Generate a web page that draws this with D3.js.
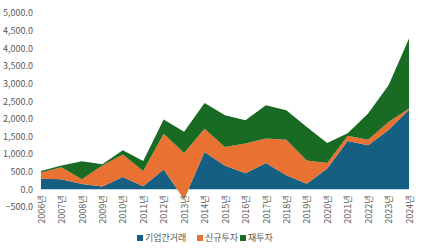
<!DOCTYPE html>
<html>
<head>
<meta charset="utf-8">
<script src="https://cdn.jsdelivr.net/npm/d3@7"></script>
<style>
body { margin: 0; background: #fff; }
text { font-family: "Noto Sans CJK KR", "Noto Sans", sans-serif; fill: #595959; }
</style>
</head>
<body>
<svg id="chart"></svg>
<script>
var width = 424, height = 250

var years = ["2006년", "2007년", "2008년", "2009년", "2010년", "2011년", "2012년", "2013년", "2014년", "2015년",
    "2016년", "2017년", "2018년", "2019년", "2020년", "2021년", "2022년", "2023년", "2024년"]
var seriesNames = ["기업간거래", "신규투자", "재투자"]
var interCompany = [300, 290, 150, 80, 350, 90, 560, -270, 1060, 670, 460, 750, 400, 160, 590, 1370, 1250, 1680, 2260]
var newInvest = [180, 340, 140, 600, 640, 430, 1020, 1300, 660, 530, 840, 690, 1010, 660, 160, 150, 160, 230, 30]
var reInvest = [40, 50, 505, 30, 120, 285, 400, 600, 730, 900, 660, 945, 830, 950, 565, 70, 740, 1040, 1990]
var yTicks = [-500, 0, 500, 1000, 1500, 2000, 2500, 3000, 3500, 4000, 4500, 5000]
var colors = ["#156082", "#E97132", "#196B24"]

var rows = years.map(function(y, i) {
    return { year: y, "기업간거래": interCompany[i], "신규투자": newInvest[i], "재투자": reInvest[i] }
})

var svg = d3.select("#chart")
    .attr("width", width)
    .attr("height", height)

var x = d3.scalePoint()
    .domain(years)
    .range([41, 409])

var y = d3.scaleLinear()
    .domain([-500, 5000])
    .range([207, 13])

// plain cumulative stacking, like the spreadsheet (negatives not split off)
var stack = d3.stack()
    .keys(seriesNames)
    .offset(d3.stackOffsetNone)
var layers = stack(rows)

var area = d3.area()
    .x(function(d) { return x(d.data.year) })
    .y0(function(d) { return y(d[0]) })
    .y1(function(d) { return y(d[1]) })

svg.append("g")
    .selectAll("path")
    .data(layers)
    .enter()
    .append("path")
        .attr("d", area)
        .attr("fill", function(d, i) { return colors[i] })

// y axis labels
var yAxis = svg.append("g")
    .attr("transform", "translate(33,0)")
    .call(d3.axisLeft(y).tickValues(yTicks).tickSize(0).tickFormat(d3.format(",.1f")))
yAxis.select(".domain").remove()
yAxis.selectAll("text")
    .attr("x", 0)
    .style("font-size", "9px")
    .style("fill", "#595959")

// x axis labels, rotated
var xAxis = svg.append("g")
    .attr("transform", "translate(0," + y(0) + ")")
    .call(d3.axisBottom(x).tickSize(0))
xAxis.select(".domain").remove()
xAxis.selectAll("text")
    .attr("transform", "rotate(-90)")
    .attr("x", -6)
    .attr("y", 0)
    .attr("dy", "0.35em")
    .style("text-anchor", "end")
    .style("font-size", "9px")
    .style("fill", "#595959")

// legend
var legendX = [137, 197, 240]
var legend = svg.append("g")
    .selectAll("g")
    .data(seriesNames)
    .enter()
    .append("g")
        .attr("transform", function(d, i) { return "translate(" + legendX[i] + ",238)" })
legend.append("rect")
    .attr("x", 0)
    .attr("y", -3)
    .attr("width", 6)
    .attr("height", 6)
    .attr("fill", function(d, i) { return colors[i] })
legend.append("text")
    .attr("x", 8)
    .attr("dy", "0.35em")
    .style("font-size", "9px")
    .text(function(d) { return d })
</script>
</body>
</html>
